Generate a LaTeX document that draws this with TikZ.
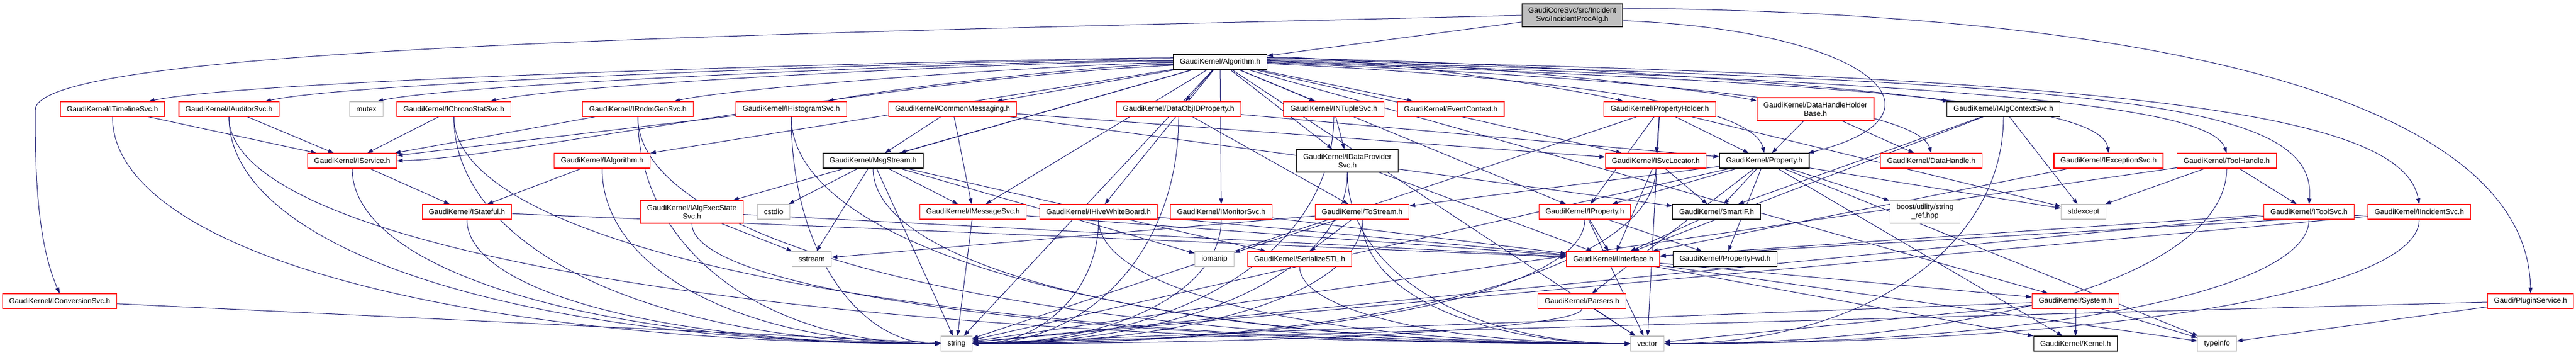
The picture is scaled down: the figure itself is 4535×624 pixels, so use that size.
\documentclass[tikz,border=0pt]{standalone}
\usepackage{fontspec}
\setmainfont{Liberation Sans}
\usetikzlibrary{arrows.meta,calc}
\pgfdeclarelayer{bg}
\pgfsetlayers{bg,main}
\definecolor{edgec}{HTML}{191970}
\definecolor{grayb}{HTML}{BFBFBF}
\definecolor{redc}{HTML}{FF0000}
\begin{document}
\begin{tikzpicture}[x=1pt,y=1pt,
  box/.style={draw, line width=1.2pt, fill=white, minimum height=26pt, inner xsep=11.5pt, inner ysep=6pt, align=center, font=\fontsize{13}{15}\selectfont},
  redb/.style={box, draw=redc},
  blkb/.style={box, draw=black},
  sysb/.style={box, draw=grayb},
  rootb/.style={box, draw=black, fill=grayb},
  two/.style={minimum height=40pt},
  e/.style={draw=edgec, line width=1pt, -{Triangle[length=10pt,width=7pt]}},
  dv/.style={to path={.. controls ($(\tikztostart)!0.6!(\tikztostart |- \tikztotarget)$) and ($(\tikztotarget)!0.6!(\tikztostart |- \tikztotarget)$) .. (\tikztotarget)}}]
\useasboundingbox (0,0) rectangle (4535,624);
% top
\node[rootb,two] (root) at (2768,597) {GaudiCoreSvc/src/Incident\\Svc/IncidentProcAlg.h};
\node[blkb] (alg) at (2148,515) {GaudiKernel/Algorithm.h};
% row 1
\node[redb] (tl) at (198,432) {GaudiKernel/ITimelineSvc.h};
\node[redb] (aud) at (403,432) {GaudiKernel/IAuditorSvc.h};
\node[sysb] (mutex) at (645,432) {mutex};
\node[redb] (chrono) at (799,432) {GaudiKernel/IChronoStatSvc.h};
\node[redb] (rndm) at (1123,432) {GaudiKernel/IRndmGenSvc.h};
\node[redb] (hist) at (1393,432) {GaudiKernel/IHistogramSvc.h};
\node[redb] (cmsg) at (1677,432) {GaudiKernel/CommonMessaging.h};
\node[redb] (doid) at (2075,432) {GaudiKernel/DataObjIDProperty.h};
\node[redb] (ntup) at (2348,432) {GaudiKernel/INTupleSvc.h};
\node[redb] (evctx) at (2554,432) {GaudiKernel/EventContext.h};
\node[redb] (ph) at (2922,432) {GaudiKernel/PropertyHolder.h};
\node[redb,two] (dhhb) at (3196,432) {GaudiKernel/DataHandleHolder\\Base.h};
\node[blkb] (actx) at (3527,432) {GaudiKernel/IAlgContextSvc.h};
% row 2
\node[redb] (svc) at (620,341) {GaudiKernel/IService.h};
\node[redb] (ialg) at (1060,341) {GaudiKernel/IAlgorithm.h};
\node[blkb] (msg) at (1537,341) {GaudiKernel/MsgStream.h};
\node[blkb,two] (dps) at (2372,341) {GaudiKernel/IDataProvider\\Svc.h};
\node[redb] (svcloc) at (2915,341) {GaudiKernel/ISvcLocator.h};
\node[blkb] (prop) at (3106,341) {GaudiKernel/Property.h};
\node[redb] (dh) at (3400,341) {GaudiKernel/DataHandle.h};
\node[redb] (exc) at (3712,341) {GaudiKernel/IExceptionSvc.h};
\node[redb] (th) at (3920,341) {GaudiKernel/ToolHandle.h};
% row 3
\node[redb] (stf) at (822,251) {GaudiKernel/IStateful.h};
\node[redb,two] (aes) at (1218,251) {GaudiKernel/IAlgExecState\\Svc.h};
\node[sysb] (cstdio) at (1362,251) {cstdio};
\node[redb] (imsg) at (1713,251) {GaudiKernel/IMessageSvc.h};
\node[redb] (hwb) at (1934,251) {GaudiKernel/IHiveWhiteBoard.h};
\node[redb] (mon) at (2150,251) {GaudiKernel/IMonitorSvc.h};
\node[redb] (tos) at (2398,251) {GaudiKernel/ToStream.h};
\node[redb] (iprop) at (2790,251) {GaudiKernel/IProperty.h};
\node[blkb] (sif) at (3022,251) {GaudiKernel/SmartIF.h};
\node[sysb,two] (boost) at (3389,251) {boost/utility/string\\\_ref.hpp};
\node[sysb] (stdexc) at (3668,251) {stdexcept};
\node[redb] (tsvc) at (4065,251) {GaudiKernel/IToolSvc.h};
\node[redb] (inc) at (4259,251) {GaudiKernel/IIncidentSvc.h};
% row 4
\node[sysb] (sstream) at (1429,168) {sstream};
\node[sysb] (iomanip) at (2138,168) {iomanip};
\node[redb] (sstl) at (2288,168) {GaudiKernel/SerializeSTL.h};
\node[redb] (iif) at (2840,168) {GaudiKernel/IInterface.h};
\node[blkb] (pfwd) at (3037,168) {GaudiKernel/PropertyFwd.h};
% row 5
\node[redb] (conv) at (105,94) {GaudiKernel/IConversionSvc.h};
\node[redb] (pars) at (2785,94) {GaudiKernel/Parsers.h};
\node[redb] (sys) at (3654,94) {GaudiKernel/System.h};
\node[redb] (plug) at (4455,94) {Gaudi/PluginService.h};
% row 6
\node[sysb] (str) at (1684,19) {string};
\node[sysb] (vec) at (2900,19) {vector};
\node[blkb] (kern) at (3654,19) {GaudiKernel/Kernel.h};
\node[sysb] (tinfo) at (3903,19) {typeinfo};

\begin{pgfonlayer}{bg}
\fill[white] (0,0) rectangle (4535,624);
% root
\draw[e] (root) -- (alg);
\draw[e] (root.west) .. controls (1400,565) and (60,545) .. (62,430) .. controls (62,330) and (64,200) .. (conv.north);
\draw[e] (root.-6) .. controls (3300,570) and (3450,420) .. (prop.10);
\draw[e] (root.8) .. controls (3900,600) and (4450,420) .. (plug.north);
% Algorithm.h to the first row
\draw[e] (alg.175) .. controls (1850,522) and (466,489) .. (tl.12);
\draw[e] (alg.176) .. controls (1850,521) and (650,485) .. (aud.12);
\draw[e] (alg.178) .. controls (1860,520) and (820,480) .. (mutex.35);
\draw[e] (alg.179) .. controls (1880,518) and (1020,480) .. (chrono.12);
\draw[e] (alg.181) .. controls (1920,514) and (1300,472) .. (rndm.12);
\draw[e] (alg.183) .. controls (1950,512) and (1560,468) .. (hist.12);
\draw[e] (alg.6) .. controls (2400,524) and (2760,470) .. (ph.168);
\draw[e] (alg.5) .. controls (2450,523) and (2950,475) .. (dhhb.172);
\draw[e] (alg.4) .. controls (2550,522) and (3250,475) .. (actx.172);
\foreach \t in {cmsg,doid,ntup,evctx,ialg,msg,dps,svcloc,aes,imsg,hwb,mon,iprop,sys,str,vec}
  \draw[e] (alg) -- (\t);
\draw[e] (alg.184) .. controls (1500,480) and (900,345) .. (svc.east);
\draw[e] (alg.-2) .. controls (2900,480) and (3090,420) .. (prop.north);
\draw[e] (alg.-1) .. controls (3100,480) and (3380,420) .. (dh.north);
\draw[e] (alg.0) .. controls (3300,478) and (3700,440) .. (exc.north);
\draw[e] (alg.1) .. controls (3450,478) and (3890,440) .. (th.north);
\draw[e] (alg.2) .. controls (3700,478) and (4080,450) .. (tsvc.north);
\draw[e] (alg.3) .. controls (3800,490) and (4230,420) .. (inc.north);
% edges into string and vector that sweep in from the side
\foreach \s in {tl,aud,chrono,rndm,hist,svc,stf,ialg,doid,ntup,dps,hwb,mon,tos,iprop,pars,svcloc}
  \draw[e] (\s) to[dv] (str);
\foreach \s in {aud,chrono,rndm,hist,msg,aes,hwb,dps,tos,sstl,th,tsvc,inc,actx}
  \draw[e] (\s) to[dv] (vec);
% other edges
\foreach \t in {svc} \draw[e] (tl) -- (\t);
\foreach \t in {svc} \draw[e] (aud) -- (\t);
\foreach \t in {svc} \draw[e] (chrono) -- (\t);
\foreach \t in {svc} \draw[e] (rndm) -- (\t);
\foreach \t in {svc} \draw[e] (hist) -- (\t);
\foreach \t in {msg,imsg,svcloc,sif} \draw[e] (cmsg) -- (\t);
\foreach \t in {prop,tos} \draw[e] (doid) -- (\t);
\foreach \t in {dps} \draw[e] (ntup) -- (\t);
\foreach \t in {iprop,svcloc,prop,str,vec,stdexc} \draw[e] (ph) -- (\t);
\foreach \t in {prop,dh} \draw[e] (dhhb) -- (\t);
\foreach \t in {iif,sif,stdexc} \draw[e] (actx) -- (\t);
\foreach \t in {stf} \draw[e] (svc) -- (\t);
\foreach \t in {stf} \draw[e] (ialg) -- (\t);
\foreach \t in {imsg,sstl,cstdio,sstream,iomanip,str} \draw[e] (msg) -- (\t);
\foreach \t in {iif} \draw[e] (dps) -- (\t);
\foreach \t in {iif,sif} \draw[e] (svcloc) -- (\t);
\foreach \t in {iprop,sif,pfwd,tos,pars,boost,stdexc,str,tinfo,kern} \draw[e] (prop) -- (\t);
\draw[e] (exc) -- (iif);
\foreach \t in {tsvc,stdexc,str} \draw[e] (th) -- (\t);
\foreach \t in {iif} \draw[e] (stf) -- (\t);
\foreach \t in {sstream,iif} \draw[e] (aes) -- (\t);
\foreach \t in {iif,str} \draw[e] (imsg) -- (\t);
\foreach \t in {iif} \draw[e] (hwb) -- (\t);
\foreach \t in {iif} \draw[e] (mon) -- (\t);
\foreach \t in {sstl,iomanip,sstream} \draw[e] (tos) -- (\t);
\foreach \t in {iif,pfwd,vec} \draw[e] (iprop) -- (\t);
\draw[e] (sif) -- (iif);
\foreach \t in {iif,str} \draw[e] (tsvc) -- (\t);
\foreach \t in {iif,str} \draw[e] (inc) -- (\t);
\foreach \t in {kern,sys,tinfo} \draw[e] (iif) -- (\t);
\foreach \t in {vec} \draw[e] (pars) -- (\t);
\foreach \t in {kern,str,vec,tinfo} \draw[e] (sys) -- (\t);
\foreach \t in {str,tinfo} \draw[e] (plug) -- (\t);
\draw[e] (conv) -- (str);
\end{pgfonlayer}
\end{tikzpicture}
\end{document}
